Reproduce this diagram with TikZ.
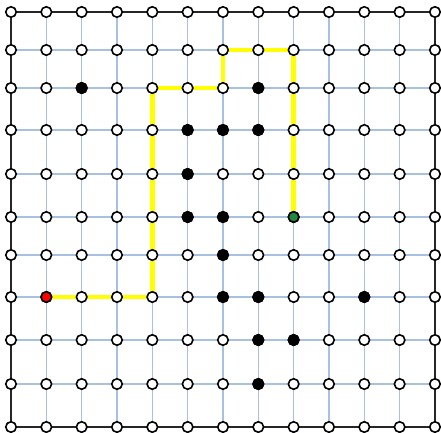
\documentclass[tikz,border=0pt]{standalone}
\usepackage{tikz}
\usetikzlibrary{positioning}
\definecolor{gridblue}{HTML}{A8C1E2}
\definecolor{routeyellow}{HTML}{FFFF00}
\definecolor{startred}{HTML}{FF0000}
\definecolor{goalgreen}{HTML}{1F8A3E}

\begin{document}
\begin{tikzpicture}[x=1pt,y=-1pt,
  vtx/.style={circle,draw=black,line width=1.6pt,fill=white,inner sep=0pt,minimum size=10.5pt},
  blocked/.style={vtx,fill=black},
  startvtx/.style={vtx,fill=startred},
  goalvtx/.style={vtx,fill=goalgreen},
  gridline/.style={gridblue,line width=1.2pt},
  route/.style={routeyellow,line width=4.5pt}]
  \useasboundingbox (0,0) rectangle (441,432);
  % lattice points (rows are not evenly spaced)
  \foreach \r/\yy in {0/12,1/50,2/88,3/130,4/174,5/217,6/255,7/297,8/340,9/384,10/427}
    \foreach \c in {0,...,12}
      \coordinate (p\c-\r) at ({11+35.33*\c},\yy);
  % grid
  \foreach \r in {1,...,9}
    \draw[gridline] (p0-\r) -- (p12-\r);
  \foreach \c in {1,...,11}
    \draw[gridline] (p\c-0) -- (p\c-10);
  \draw[line width=1.8pt,black!85] (p0-0) rectangle (p12-10);
  % route from start to goal
  \draw[route,line join=miter] (p1-7) -- (p4-7) -- (p4-2) -- (p6-2) -- (p6-1) -- (p8-1) -- (p8-5);
  % vertices
  \foreach \r in {0,...,10}
    \foreach \c in {0,...,12}
      \node[vtx] (v\c-\r) at (p\c-\r) {};
  \foreach \c/\r in {2/2,7/2,5/3,6/3,7/3,5/4,5/5,6/5,6/6,6/7,7/7,10/7,7/8,8/8,7/9}
    \node[blocked] (b\c-\r) at (p\c-\r) {};
  \node[startvtx] (start) at (p1-7) {};
  \node[goalvtx] (goal) at (p8-5) {};
\end{tikzpicture}
\end{document}
